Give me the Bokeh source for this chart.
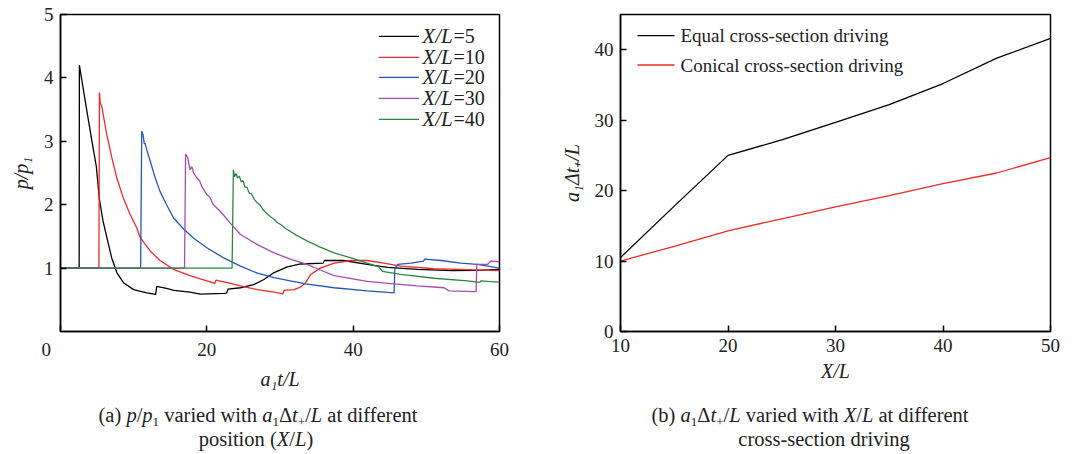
from bokeh.plotting import figure
from bokeh.models import Range1d, FixedTicker, Label, Div
from bokeh.layouts import row, column
from bokeh.embed import file_html
from bokeh.resources import INLINE

# ---- panel (a): pressure ratio histories at several stations ----
t_x5 = [0, 2.55, 2.58, 3.5, 4.3, 4.9, 5.3, 5.8, 6.3, 7.0, 7.7, 8.6, 10.0, 11.8, 13.0,
        13.15, 14.5, 15.5, 17.7, 19.1, 22.3, 22.7, 22.9, 24.6, 26.4, 27.8, 29.2, 31.0,
        32.8, 35.9, 36.1, 38.7, 41.9, 44.7, 48.8, 53.4, 57.0, 60]
p_x5 = [1, 1, 4.2, 3.55, 3.0, 2.6, 2.1, 1.75, 1.5, 1.16, 0.93, 0.77, 0.66, 0.61, 0.585,
        0.71, 0.68, 0.65, 0.62, 0.59, 0.6, 0.605, 0.67, 0.69, 0.74, 0.82, 0.93, 1.02,
        1.065, 1.08, 1.12, 1.12, 1.06, 1.01, 0.98, 0.96, 0.965, 0.98]

t_x10 = [0, 5.25, 5.32, 5.45, 5.64, 6.3, 7.0, 7.7, 8.6, 9.5, 10.4, 10.9, 12.26, 13.6,
         15.45, 17.7, 20.0, 21.1, 21.25, 22.8, 24.6, 26.9, 29.2, 30.4, 30.55, 31.9, 32.8,
         33.5, 34.2, 35.5, 37.4, 39.7, 41.9, 44.2, 46.5, 51.1, 55.6, 60]
p_x10 = [1, 1, 3.77, 3.6, 3.55, 3.12, 2.75, 2.42, 2.1, 1.85, 1.64, 1.48, 1.27, 1.12,
         0.98, 0.88, 0.8, 0.76, 0.81, 0.77, 0.72, 0.66, 0.62, 0.595, 0.65, 0.66, 0.70,
         0.77, 0.90, 1.0, 1.08, 1.12, 1.12, 1.08, 1.03, 0.99, 0.975, 0.96]

t_x20 = [0, 10.95, 11.1, 11.3, 11.45, 11.56, 11.8, 12.26, 12.95, 13.6, 14.5, 15.45, 16.8,
         18.2, 20.0, 22.3, 24.6, 26.9, 29.2, 31.4, 33.5, 37.4, 41.9, 45.6, 45.7, 46.1,
         47.9, 49.6, 49.8, 52.0, 54.7, 57.0, 60]
p_x20 = [1, 1, 3.16, 3.1, 2.96, 2.97, 2.86, 2.69, 2.42, 2.21, 2.0, 1.79, 1.62, 1.47,
         1.32, 1.16, 1.03, 0.92, 0.85, 0.80, 0.75, 0.69, 0.64, 0.61, 1.0, 1.06, 1.08,
         1.11, 1.14, 1.12, 1.08, 1.06, 1.0]

t_x30 = [0, 16.95, 17.1, 17.4, 17.7, 17.95, 18.2, 18.65, 19.0, 19.3, 20.0, 20.4, 20.9,
         21.8, 23.2, 24.6, 26.9, 29.2, 31.4, 33.7, 35.5, 37.4, 41.9, 45.6, 48.8, 52.4,
         53.1, 56.8, 56.9, 58.4, 58.8, 60]
p_x30 = [1, 1, 2.8, 2.74, 2.55, 2.6, 2.5, 2.42, 2.38, 2.29, 2.16, 2.12, 2.0, 1.9, 1.71,
         1.53, 1.37, 1.24, 1.14, 1.06, 0.97, 0.88, 0.79, 0.75, 0.72, 0.69, 0.64, 0.63,
         1.06, 1.06, 1.11, 1.1]

t_x40 = [0, 23.45, 23.63, 23.8, 24.0, 24.2, 24.45, 24.7, 24.95, 25.2, 25.5, 25.8, 26.1,
         26.5, 26.9, 27.3, 27.7, 28.2, 28.7, 29.2, 29.6, 30.2, 30.8, 31.4, 32.2, 33.7,
         35.5, 37.4, 39.7, 41.9, 43.5, 44.0, 46.5, 51.1, 55.6, 57.3, 57.5, 58.4, 60]
p_x40 = [1, 1, 2.55, 2.44, 2.49, 2.42, 2.45, 2.36, 2.38, 2.28, 2.27, 2.18, 2.17, 2.08,
         2.03, 1.99, 1.92, 1.86, 1.81, 1.77, 1.72, 1.68, 1.62, 1.58, 1.52, 1.43, 1.33,
         1.24, 1.16, 1.08, 1.02, 0.95, 0.90, 0.84, 0.80, 0.775, 0.8, 0.79, 0.78]

station_labels = ["5", "10", "20", "30", "40"]
station_colors = ["#000000", "#ee2b2b", "#2457b5", "#a64bb4", "#2f8540"]

# ---- panel (b): positive-phase duration versus station ----
xl = [10, 15, 20, 25, 30, 35, 40, 45, 50]
equal_dur = [10.5, 17.8, 25.0, 27.2, 29.7, 32.2, 35.2, 38.8, 41.6]
conical_dur = [10.0, 12.1, 14.3, 16.0, 17.7, 19.3, 21.0, 22.5, 24.7]
case_labels = ["Equal cross-section driving", "Conical cross-section driving"]
case_colors = ["#000000", "#ee2b2b"]

SERIF = "Liberation Serif"
TXT = "#222222"


def style(p):
    p.outline_line_color = "black"
    p.outline_line_width = 1.5
    p.xgrid.visible = False
    p.ygrid.visible = False
    p.background_fill_color = "white"
    p.border_fill_color = "white"
    for ax in list(p.xaxis) + list(p.yaxis):
        ax.major_tick_in = 6
        ax.major_tick_out = 0
        ax.minor_tick_in = 0
        ax.minor_tick_out = 0
        ax.axis_line_width = 1.5
        ax.major_tick_line_width = 1.5
        ax.axis_line_color = "black"
        ax.major_tick_line_color = "black"
        ax.major_label_text_font = SERIF
        ax.major_label_text_font_size = "19px"
        ax.major_label_text_color = TXT
        ax.major_label_standoff = 7
        ax.axis_label_text_font = SERIF
        ax.axis_label_text_font_style = "italic"
        ax.axis_label_text_font_size = "20px"
        ax.axis_label_text_color = TXT
    for ax in p.xaxis:
        ax.axis_label_standoff = 5
    for ax in p.yaxis:
        ax.axis_label_standoff = 9


# ---------------- panel (a) ----------------
fa = figure(frame_width=439, frame_height=317, min_border_left=60, min_border_right=41,
            min_border_top=14, min_border_bottom=59, toolbar_location=None,
            output_backend="svg", x_range=Range1d(0, 60), y_range=Range1d(0, 5))
style(fa)
fa.xaxis.ticker = FixedTicker(ticks=[0, 20, 40, 60])
fa.yaxis.ticker = FixedTicker(ticks=[1, 2, 3, 4, 5])
# the origin label sits a little left of the corner
fa.xaxis.major_label_overrides = {0: "0\u2003\u2002"}
fa.xaxis.axis_label = "a₁t/L"
fa.yaxis.axis_label = "p/p₁"

series = [(t_x5, p_x5), (t_x10, p_x10), (t_x20, p_x20), (t_x30, p_x30), (t_x40, p_x40)]
for (tt, pp), col in zip(series, station_colors):
    fa.line(tt, pp, line_color=col, line_width=1.3)

# legend for panel (a), laid out in data units of the panel
leg_x0, leg_x1 = 43.5, 49.0
leg_tx, leg_eq = 49.45, 53.7
leg_rows = [4.654, 4.323, 4.008, 3.677, 3.346]
for lab, col, yy in zip(station_labels, station_colors, leg_rows):
    fa.line([leg_x0, leg_x1], [yy, yy], line_color=col, line_width=1.3)
    fa.add_layout(Label(x=leg_tx, y=yy, text="X/L", text_font=SERIF,
                        text_font_style="italic", text_font_size="21px",
                        text_baseline="middle", text_color=TXT))
    fa.add_layout(Label(x=leg_eq, y=yy, text="=" + lab, text_font=SERIF,
                        text_font_size="20px", text_baseline="middle", text_color=TXT))

# ---------------- panel (b) ----------------
fb = figure(frame_width=430, frame_height=317, min_border_left=80, min_border_right=24,
            min_border_top=14, min_border_bottom=59, toolbar_location=None,
            output_backend="svg", x_range=Range1d(10, 50), y_range=Range1d(0, 45))
style(fb)
fb.xaxis.ticker = FixedTicker(ticks=[10, 20, 30, 40, 50])
fb.yaxis.ticker = FixedTicker(ticks=[0, 10, 20, 30, 40])
fb.xaxis.axis_label = "X/L"
fb.yaxis.axis_label = "a₁Δt₊/L"

fb.line(xl, equal_dur, line_color=case_colors[0], line_width=1.3)
fb.line(xl, conical_dur, line_color=case_colors[1], line_width=1.3)

legb_x0, legb_x1, legb_tx = 11.58, 15.02, 15.58
legb_rows = [41.99, 37.83]
for lab, col, yy in zip(case_labels, case_colors, legb_rows):
    fb.line([legb_x0, legb_x1], [yy, yy], line_color=col, line_width=1.3)
    fb.add_layout(Label(x=legb_tx, y=yy, text=lab, text_font=SERIF,
                        text_font_size="19px", text_baseline="middle", text_color=TXT))

# ---------------- captions ----------------
sub = '<span style="font-size:13px;position:relative;top:4px">{}</span>'
cap_a1 = ('(a) <i>p</i>/<i>p</i>' + sub.format("1") + ' varied with <i>a</i>' + sub.format("1")
          + 'Δ<i>t</i>' + sub.format("+") + '/<i>L</i> at different')
cap_a2 = 'position (<i>X</i>/<i>L</i>)'
cap_b1 = ('(b) <i>a</i>' + sub.format("1") + 'Δ<i>t</i>' + sub.format("+")
          + '/<i>L</i> varied with <i>X</i>/<i>L</i> at different')
cap_b2 = 'cross-section driving'


def line_div(text, center, top):
    return ('<div style="position:absolute;left:{l}px;width:600px;top:{t}px;'
            'text-align:center;white-space:nowrap">{x}</div>').format(l=center - 300, t=top, x=text)


html = ('<div style="position:relative;width:1074px;height:64px;font-family:\'Liberation Serif\';'
        'font-size:20.5px;line-height:24px;color:#222222">'
        + line_div(cap_a1, 258, 11) + line_div(cap_a2, 256, 35)
        + line_div(cap_b1, 810, 11) + line_div(cap_b2, 824, 35) + '</div>')
cap = Div(text=html, width=1074, height=64, margin=(0, 0, 0, 0))

layout = column(row(fa, fb, spacing=0), cap, spacing=0)

with open("out.html", "w") as f:
    f.write(file_html(layout, INLINE))
